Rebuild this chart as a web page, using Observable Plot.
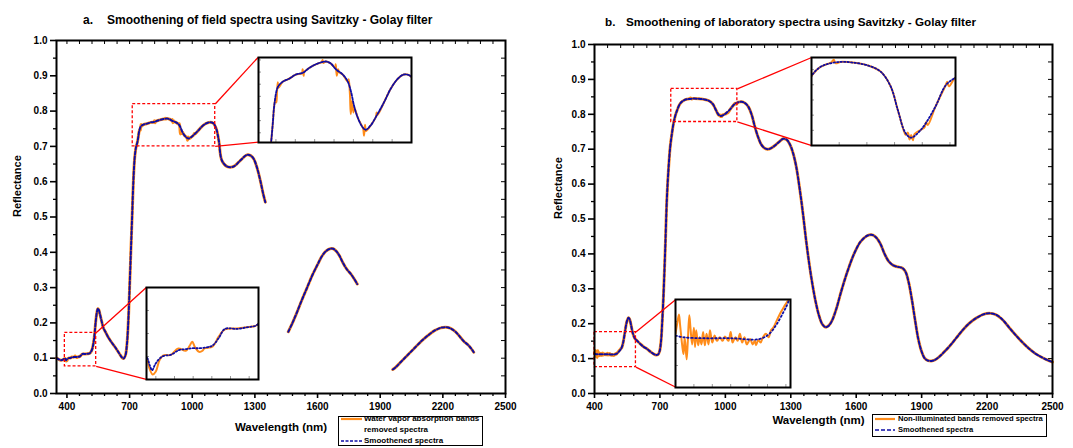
<!DOCTYPE html>
<html><head><meta charset="utf-8">
<script src="https://cdn.jsdelivr.net/npm/d3@7"></script>
<script src="https://cdn.jsdelivr.net/npm/@observablehq/plot@0.6"></script>
<style>
body{margin:0;background:#fff;font-family:"Liberation Sans",Arial,Helvetica,sans-serif;}
#wrap{position:relative;width:1073px;height:448px;overflow:hidden;background:#fff;}
.t{position:absolute;font-weight:bold;white-space:pre;color:#000;line-height:1;}
.legend{position:absolute;border:1.5px solid #000;background:#fff;box-sizing:border-box;}
</style></head><body><div id="wrap"></div>
<script>
// ---------- DATA ----------
const X_TICKS = [400,700,1000,1300,1600,1900,2200,2500];
const Y_TICKS = [0,0.1,0.2,0.3,0.4,0.5,0.6,0.7,0.8,0.9,1.0];

// Panel a: field spectrum, smoothed (three segments, water-vapour bands removed)
const aS1Wl = [350,360,370,380,390,393.6,396,399.6,406.8,416.4,424.8,432,439,446.4,454.8,460.8,467.4,474,487,499,508,515,522,530,538,544,548,552,558,566,575,584,595,610,631,650,662,671,680,688,695,700,706,712,718,724,730,737.4,741.7,746.1,754.8,767.4,784,801.8,819.6,835.4,857.5,878.8,891.8,904.5,922.3,934.1,943.2,951.9,961.8,973.6,981.5,994.5,1011.5,1028.9,1045.9,1063.3,1080.3,1100,1115,1127,1142,1167,1198,1230,1262,1280,1294,1310,1326,1340,1350];
const aS1Val = [0.100,0.097,0.0945,0.0955,0.0996,0.096,0.094,0.0968,0.100,0.1008,0.1028,0.1032,0.1036,0.1036,0.104,0.1048,0.108,0.112,0.112,0.1128,0.1136,0.118,0.128,0.155,0.205,0.232,0.240,0.238,0.225,0.205,0.185,0.175,0.162,0.148,0.131,0.114,0.103,0.099,0.108,0.145,0.22,0.30,0.40,0.50,0.60,0.665,0.695,0.712,0.727,0.7435,0.7575,0.762,0.7645,0.768,0.7694,0.7733,0.777,0.7787,0.777,0.7724,0.768,0.763,0.7547,0.742,0.732,0.7246,0.7225,0.726,0.735,0.745,0.756,0.764,0.768,0.766,0.75,0.717,0.66,0.643,0.643,0.66,0.676,0.674,0.665,0.64,0.603,0.565,0.542];
const aS2Wl = [1460,1480,1500,1525,1550,1575,1600,1620,1640,1660,1675,1690,1705,1720,1740,1760,1775,1790];
const aS2Val = [0.175,0.20,0.228,0.265,0.30,0.335,0.365,0.388,0.403,0.41,0.41,0.403,0.39,0.372,0.352,0.338,0.325,0.31];
const aS3Wl = [1960,1975,2000,2030,2060,2100,2130,2160,2190,2213,2235,2260,2280,2300,2320,2335,2348];
const aS3Val = [0.068,0.075,0.09,0.108,0.126,0.15,0.165,0.178,0.186,0.188,0.185,0.175,0.162,0.148,0.138,0.128,0.117];
// Panel a: raw (unsmoothed) detail where it departs from the smoothed curve
const aRawWl = [390,393,396.5,400,404,408,416,424,432,436,439,442,446.5,450,452,461,467,474,487,499,508,750,751.5,753,754.8,756.5,817,819,821.5,823,868,870.4,872.5,903,904.5,907,910.5,913,936,938,941,943.2,946.6,950,952,975,977.5,980,982.5,1008,1010,1012];
const aRawVal = [0.099,0.095,0.0922,0.0935,0.0985,0.1005,0.1007,0.1035,0.1025,0.1045,0.1064,0.104,0.102,0.1025,0.1035,0.1044,0.1084,0.1118,0.1122,0.1128,0.1136,0.7495,0.745,0.755,0.7617,0.757,0.769,0.7724,0.7669,0.770,0.778,0.780,0.7775,0.7735,0.7765,0.767,0.7724,0.770,0.762,0.764,0.752,0.7353,0.7463,0.7367,0.741,0.7235,0.7176,0.7267,0.7215,0.733,0.7367,0.7345];

// Panel b: laboratory spectrum, smoothed
const bSWl = [400,409,430,460,491,502,510,517.5,522.5,530,538,546,552,556,561,568,576,585,594,610,625,640,660,678,690,698,705,710,716,724,732,740,747,755,762,770,778,790,800,813,826,852,878,901.4,924.8,943,956,969,979.4,997.6,1023.6,1041.8,1060,1075,1090,1105,1120,1135,1150,1165,1180,1195,1210,1230,1250,1265,1280,1295,1310,1325,1340,1355,1370,1385,1400,1415,1430,1445,1460,1475,1490,1510,1530,1560,1590,1620,1650,1670,1690,1710,1730,1750,1770,1790,1810,1825,1840,1855,1870,1885,1900,1915,1930,1945,1960,1980,2000,2030,2060,2090,2120,2150,2180,2210,2240,2270,2300,2330,2360,2390,2420,2450,2480,2500];
const bSVal = [0.1136,0.1128,0.1124,0.1124,0.112,0.1144,0.1188,0.1244,0.1288,0.142,0.170,0.200,0.213,0.217,0.213,0.195,0.172,0.158,0.152,0.142,0.134,0.128,0.118,0.111,0.111,0.12,0.15,0.2,0.276,0.41,0.56,0.65,0.706,0.745,0.773,0.795,0.81,0.828,0.8358,0.841,0.8434,0.8451,0.8445,0.8428,0.8387,0.8289,0.8132,0.7987,0.7952,0.8004,0.8155,0.8294,0.8347,0.836,0.832,0.822,0.80,0.765,0.735,0.713,0.703,0.70,0.703,0.712,0.723,0.73,0.728,0.715,0.69,0.65,0.59,0.52,0.44,0.37,0.31,0.26,0.222,0.198,0.19,0.195,0.21,0.245,0.29,0.35,0.40,0.435,0.452,0.455,0.448,0.43,0.40,0.378,0.367,0.363,0.36,0.35,0.32,0.27,0.21,0.155,0.12,0.10,0.094,0.093,0.096,0.105,0.117,0.137,0.16,0.183,0.202,0.216,0.226,0.23,0.226,0.212,0.19,0.168,0.148,0.13,0.115,0.104,0.095,0.09];
// Panel b: raw detail (non-illuminated noisy bands and small departures)
const bRawWl = [400,401.75,403.75,405,407.5,408.75,410,412.1,413.4,415,416.25,418.1,420,421.25,422.5,424.6,426.25,428.25,430,431.9,433.75,435.9,437.5,440,442.5,445,448.1,451.25,453.75,457.5,460,462,465,467.5,470,472.5,475,477.5,481.25,483.75,486.25,487.5,490,492.5,495,498.25,501.25,503.75,506.25,510,513.75,517.5,522.5,525,836,840,844,966,970,974,977,980,983,986,1004,1007,1010,1045,1048];
const bRawVal = [0.1144,0.1188,0.1232,0.1184,0.1084,0.1052,0.1128,0.1028,0.1112,0.1228,0.1172,0.1096,0.1172,0.1084,0.116,0.1092,0.1128,0.1096,0.1152,0.1092,0.1144,0.1096,0.116,0.1104,0.1136,0.1112,0.1128,0.1112,0.1132,0.1112,0.1152,0.1104,0.1128,0.1112,0.1144,0.1104,0.1128,0.1096,0.112,0.1096,0.1112,0.1092,0.1116,0.1104,0.1128,0.1144,0.1128,0.116,0.1172,0.1204,0.1236,0.1264,0.1296,0.1312,0.8448,0.8465,0.8442,0.8005,0.797,0.7985,0.794,0.797,0.7935,0.7975,0.802,0.8055,0.8035,0.832,0.829];

// Text
const titleA = ["a.", "Smoothening of field spectra using Savitzky - Golay filter"];
const titleB = ["b.", "Smoothening of laboratory spectra using Savitzky - Golay filter"];
const xLabel = "Wavelength (nm)";
const yLabel = "Reflectance";
const legendA = ["Water vapor absorption bands", "removed spectra", "Smoothened spectra"];
const legendB = ["Non-illuminated bands removed spectra", "Smoothened spectra"];

// Zoom regions (data units) and where their insets sit (data units of the host plot)
const insetsA = [
  {rect:{x1:715,x2:1110,y1:0.70,y2:0.82}, box:{x1:1315,x2:2050,y1:0.712,y2:0.952}, xd:[705,1100], yd:[0.712,0.782], dash:"2.5,1.5"},
  {rect:{x1:390,x2:540,y1:0.077,y2:0.172}, box:{x1:780,x2:1318,y1:0.040,y2:0.300}, xd:[390,510], yd:[0.09,0.13], dash:"1.5,2"}
];
const insetsB = [
  {rect:{x1:752,x2:1055,y1:0.778,y2:0.873}, box:{x1:1393,x2:2052,y1:0.711,y2:0.962}, xd:[800,1060], yd:[0.79,0.848], dash:"1.5,2"},
  {rect:{x1:400,x2:590,y1:0.0754,y2:0.176}, box:{x1:773,x2:1301,y1:0.018,y2:0.269}, xd:[400,525], yd:[0.09,0.13], dash:"1.5,2.5"}
];

// ---------- BUILD ----------
const FONT = '"Liberation Sans", Arial, Helvetica, sans-serif';
const ORANGE = "#ff8c1a", BLUE = "#0c0ca6", RED = "#ff0000";
const pts = (wl, val, seg) => wl.map((w, i) => ({wl: w, r: val[i], seg}));
function mergeRaw(smooth, detail) {
  const keep = smooth.filter(p => !detail.some(d => d.seg === p.seg && Math.abs(d.wl - p.wl) < 3));
  return keep.concat(detail).sort((a, b) => a.seg - b.seg || a.wl - b.wl);
}
const smoothA = [...pts(aS1Wl, aS1Val, 1), ...pts(aS2Wl, aS2Val, 2), ...pts(aS3Wl, aS3Val, 3)];
const rawA = mergeRaw(smoothA, pts(aRawWl, aRawVal, 1));
const smoothB = pts(bSWl, bSVal, 1);
const rawB = mergeRaw(smoothB, pts(bRawWl, bRawVal, 1));

const wrap = document.getElementById("wrap");

function drawPanel(cfg) {
  const H = 448;
  const innerW = cfg.width - cfg.ml - cfg.mr, innerH = H - cfg.mt - cfg.mb;
  const [d0, d1] = cfg.xDomain;
  const minorX = d3.range(400, 2501, 60).filter(v => (v - 400) % 300 !== 0 && v >= d0 && v <= d1);
  const minorY = d3.range(0.05, 1, 0.1);
  const rects = cfg.insets.map(d => d.rect);
  const links = cfg.insets.flatMap(d => [
    {x1: d.rect.x2, y1: d.rect.y2, x2: d.box.x1, y2: d.box.y2},
    {x1: d.rect.x2, y1: d.rect.y1, x2: d.box.x1, y2: d.box.y1}
  ]);
  const plot = Plot.plot({
    width: cfg.width, height: H,
    marginLeft: cfg.ml, marginRight: cfg.mr, marginTop: cfg.mt, marginBottom: cfg.mb,
    x: {domain: cfg.xDomain, label: null},
    y: {domain: [0, 1], label: null},
    style: {fontFamily: FONT, fontWeight: "bold", color: "#000", background: "transparent", overflow: "visible"},
    marks: [
      Plot.axisX(X_TICKS, {tickSize: 5, tickPadding: 4, strokeWidth: 1.6, fontSize: 10, tickFormat: d3.format("d"), label: null}),
      Plot.axisX(minorX, {tickSize: 3, strokeWidth: 1.3, tickFormat: () => "", label: null}),
      Plot.axisY(Y_TICKS, {tickSize: 6, tickPadding: 3, strokeWidth: 1.6, fontSize: 10, tickFormat: d3.format(".1f"), label: null}),
      Plot.axisY(minorY, {tickSize: 3, strokeWidth: 1.3, tickFormat: () => "", label: null}),
      Plot.ruleX(X_TICKS.filter(v => v >= d0).concat(minorX), {x: d => d, insetBottom: innerH - 4, strokeWidth: 1}),
      Plot.ruleY(Y_TICKS.concat(minorY), {y: d => d, insetLeft: innerW - 4, strokeWidth: 1}),
      Plot.line(cfg.raw, {x: "wl", y: "r", z: "seg", stroke: ORANGE, strokeWidth: 3, curve: "catmull-rom"}),
      Plot.line(cfg.smooth, {x: "wl", y: "r", z: "seg", stroke: BLUE, strokeWidth: 2, strokeDasharray: "3,2", curve: "catmull-rom"}),
      Plot.rect(rects, {x1: "x1", x2: "x2", y1: "y1", y2: "y2", fill: "none", stroke: RED, strokeWidth: 1.3, strokeDasharray: "3,2"}),
      Plot.link(links, {x1: "x1", y1: "y1", x2: "x2", y2: "y2", stroke: RED, strokeWidth: 1.3}),
      Plot.frame({stroke: "#000", strokeWidth: 2}),
      Plot.text([xLabel], {text: d => d, frameAnchor: "bottom", dy: cfg.xLabelDy, dx: cfg.xLabelDx, fontSize: 11.5}),
      Plot.text([yLabel], {text: d => d, frameAnchor: "left", dx: cfg.yLabelDx, rotate: -90, fontSize: 11})
    ]
  });
  plot.style.position = "absolute";
  plot.style.left = cfg.left + "px";
  plot.style.top = "0px";
  wrap.appendChild(plot);
  const sx = plot.scale("x"), sy = plot.scale("y");
  for (const ins of cfg.insets) drawInset(cfg, ins, sx, sy);
}

function drawInset(cfg, ins, sx, sy) {
  const left = cfg.left + sx.apply(ins.box.x1), right = cfg.left + sx.apply(ins.box.x2);
  const top = sy.apply(ins.box.y2), bottom = sy.apply(ins.box.y1);
  const [x0, x1] = ins.xd;
  const within = p => p.wl >= x0 - 30 && p.wl <= x1 + 30;
  const w = Math.round(right - left), h = Math.round(bottom - top);
  const tickX = d3.ticks(x0, x1, 8), tickY = d3.ticks(ins.yd[0], ins.yd[1], 5);
  const p = Plot.plot({
    width: w, height: h, margin: 0,
    x: {domain: ins.xd, label: null, axis: null}, y: {domain: ins.yd, label: null, axis: null},
    style: {overflow: "visible", background: "transparent"},
    marks: [
      Plot.frame({fill: "#fff", stroke: "none"}),
      Plot.ruleX(tickX, {x: d => d, insetTop: h - 3, stroke: "#999", strokeWidth: 1}),
      Plot.ruleY(tickY, {y: d => d, insetRight: w - 3, stroke: "#999", strokeWidth: 1}),
      Plot.line(cfg.raw.filter(within), {x: "wl", y: "r", z: "seg", stroke: ORANGE, strokeWidth: 2, curve: "catmull-rom", clip: true}),
      Plot.line(cfg.smooth.filter(within), {x: "wl", y: "r", z: "seg", stroke: BLUE, strokeWidth: 1.8, strokeDasharray: ins.dash, curve: "catmull-rom", clip: true}),
      Plot.frame({stroke: "#000", strokeWidth: 2})
    ]
  });
  p.style.position = "absolute";
  p.style.left = Math.round(left) + "px";
  p.style.top = Math.round(top) + "px";
  wrap.appendChild(p);
}

function addText(txt, left, top, size) {
  const d = document.createElement("div");
  d.className = "t"; d.textContent = txt;
  d.style.left = left + "px"; d.style.top = top + "px"; d.style.fontSize = size + "px";
  wrap.appendChild(d);
}

function addLegend(box, rows, fs) {
  const L = document.createElement("div");
  L.className = "legend";
  Object.assign(L.style, {left: box.left + "px", top: box.top + "px", width: box.width + "px", height: box.height + "px"});
  wrap.appendChild(L);
  for (const r of rows) {
    if (r.line) {
      const ns = "http://www.w3.org/2000/svg";
      const s = document.createElementNS(ns, "svg");
      s.setAttribute("width", r.lw); s.setAttribute("height", 6);
      Object.assign(s.style, {position: "absolute", left: r.lx + "px", top: (r.y - 3) + "px"});
      const ln = document.createElementNS(ns, "line");
      ln.setAttribute("x1", 0); ln.setAttribute("x2", r.lw); ln.setAttribute("y1", 3); ln.setAttribute("y2", 3);
      ln.setAttribute("stroke", r.line); ln.setAttribute("stroke-width", r.dash ? 1.6 : 2.2);
      if (r.dash) ln.setAttribute("stroke-dasharray", r.dash);
      s.appendChild(ln); L.appendChild(s);
    }
    const t = document.createElement("div");
    t.className = "t"; t.textContent = r.text;
    Object.assign(t.style, {left: r.tx + "px", top: (r.y - 4) + "px", fontSize: fs + "px"});
    L.appendChild(t);
  }
}

// Titles
addText(titleA[0], 83, 14, 12);
addText(titleA[1], 107, 14, 12);
addText(titleB[0], 605, 16, 11.7);
addText(titleB[1], 626, 16, 11.7);

drawPanel({left: 0, width: 540, ml: 56, mr: 35, mt: 40, mb: 55, xDomain: [350, 2500],
  raw: rawA, smooth: smoothA, insets: insetsA, xLabelDy: 37, xLabelDx: 0, yLabelDx: -39});
drawPanel({left: 540, width: 533, ml: 54, mr: 21, mt: 44, mb: 55, xDomain: [400, 2500],
  raw: rawB, smooth: smoothB, insets: insetsB, xLabelDy: 30, xLabelDx: -5, yLabelDx: -36});

addLegend({left: 338, top: 416, width: 145, height: 30}, [
  {line: ORANGE, lx: 2, lw: 21, tx: 25, y: 2, text: legendA[0]},
  {tx: 25, y: 13, text: legendA[1]},
  {line: BLUE, dash: "3,1.5", lx: 2, lw: 21, tx: 25, y: 24, text: legendA[2]}
], 8);
addLegend({left: 872, top: 414, width: 175, height: 23}, [
  {line: ORANGE, lx: 2, lw: 20, tx: 25, y: 4, text: legendB[0]},
  {line: BLUE, dash: "4,2", lx: 2, lw: 20, tx: 25, y: 15, text: legendB[1]}
], 7.6);
</script></body></html>
